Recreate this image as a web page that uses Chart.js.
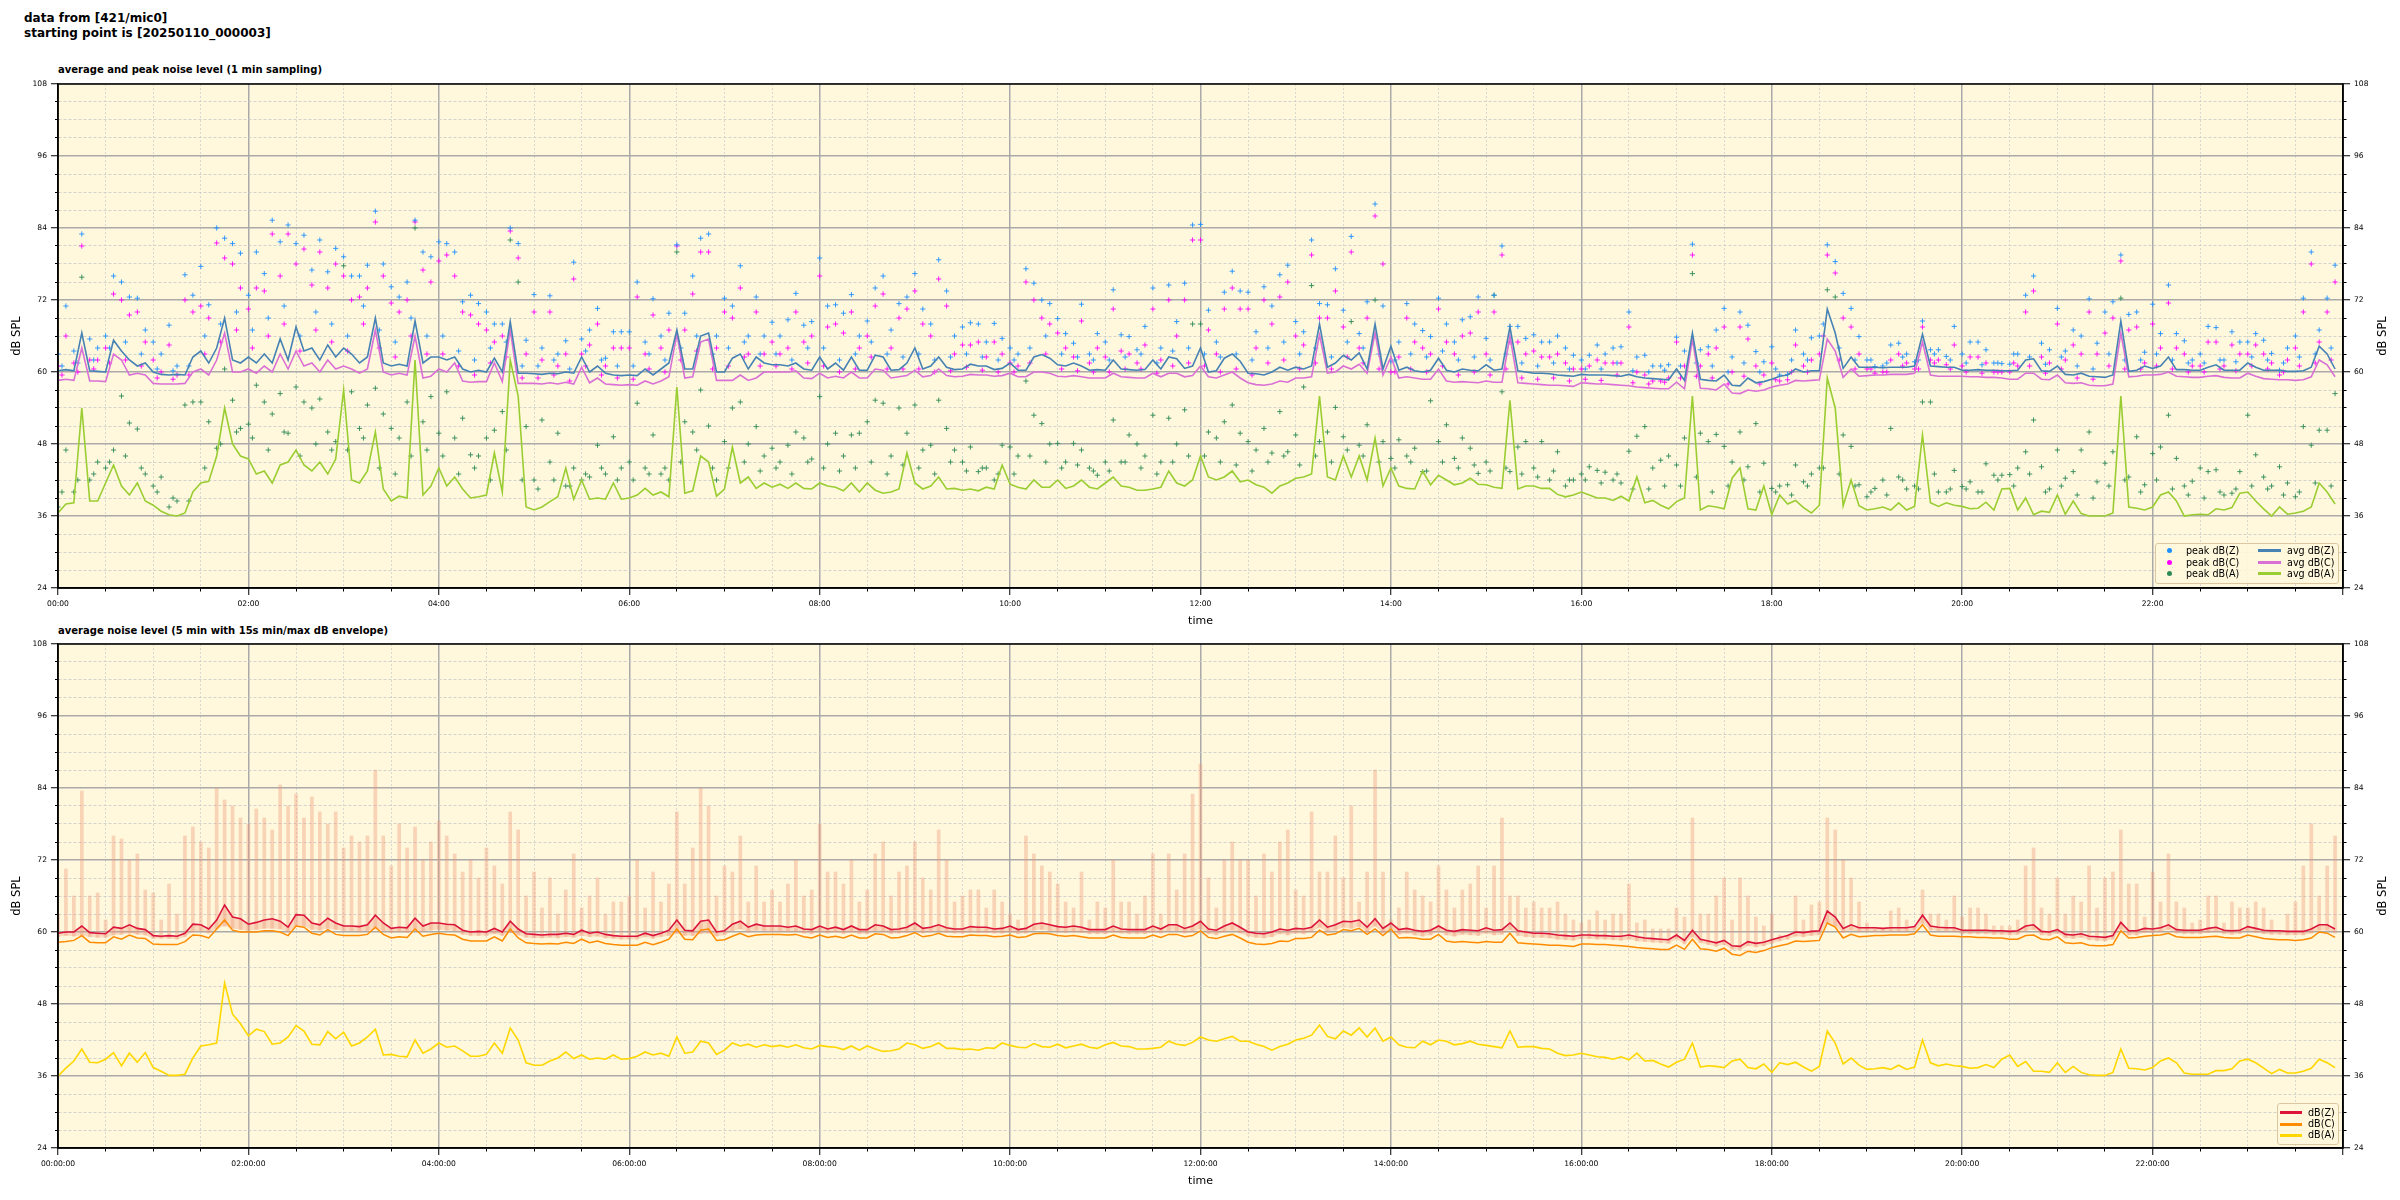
<!DOCTYPE html>
<html>
<head>
<meta charset="utf-8">
<script src="https://cdn.jsdelivr.net/npm/chart.js@4.4.1/dist/chart.umd.min.js"></script>
<style>
  body { margin: 0; width: 2400px; height: 1200px; background: #fff; position: relative; overflow: hidden; font-family: "DejaVu Sans", sans-serif; }
  .sup { position: absolute; left: 24px; top: 11px; font-weight: bold; font-size: 12px; line-height: 15px; color: #000; }
  .ptitle { position: absolute; left: 58px; font-weight: bold; font-size: 10px; color: #000; }
  canvas { position: absolute; left: 0; }
  .ytitle { position: absolute; font-size: 11.5px; color: #000; transform: translate(-50%, -50%) rotate(-90deg); white-space: nowrap; }
  .leg { position: absolute; background: rgba(255, 248, 220, 0.85); border: 1px solid #dcc8a0; border-radius: 3px; font-size: 9.6px; color: #000; }
  .leg span { position: absolute; white-space: nowrap; line-height: 11px; }
  .leg i { position: absolute; display: block; }
</style>
</head>
<body>
<div class="sup">data from [421/mic0]<br>starting point is [20250110_000003]</div>
<div class="ptitle" style="top:64px">average and peak noise level (1 min sampling)</div>
<div class="ptitle" style="top:625px">average noise level (5 min with 15s min/max dB envelope)</div>
<canvas id="c1" width="2400" height="566" style="top:74px"></canvas>
<canvas id="c2" width="2400" height="566" style="top:634px"></canvas>
<div class="ytitle" style="left:2382px;top:336px">dB SPL</div>
<div class="ytitle" style="left:2382px;top:896px">dB SPL</div>

<div class="leg" style="left:2155px;top:543px;width:182px;height:39px">
  <i style="left:11px;top:4px;width:5px;height:5px;border-radius:50%;background:#1e90ff"></i><span style="left:30px;top:1px">peak dB(Z)</span>
  <i style="left:11px;top:16px;width:5px;height:5px;border-radius:50%;background:#ff00ff"></i><span style="left:30px;top:13px">peak dB(C)</span>
  <i style="left:11px;top:27px;width:5px;height:5px;border-radius:50%;background:#2e8b57"></i><span style="left:30px;top:24px">peak dB(A)</span>
  <i style="left:102px;top:5px;width:23px;height:3px;background:#4682b4"></i><span style="left:131px;top:1px">avg dB(Z)</span>
  <i style="left:102px;top:17px;width:23px;height:3px;background:#da70d6"></i><span style="left:131px;top:13px">avg dB(C)</span>
  <i style="left:102px;top:28px;width:23px;height:3px;background:#9acd32"></i><span style="left:131px;top:24px">avg dB(A)</span>
</div>
<div class="leg" style="left:2277px;top:1103px;width:60px;height:40px">
  <i style="left:2px;top:7px;width:22px;height:3px;background:#dc143c"></i><span style="left:30px;top:3px">dB(Z)</span>
  <i style="left:2px;top:19px;width:22px;height:3px;background:#ff8c00"></i><span style="left:30px;top:14px">dB(C)</span>
  <i style="left:2px;top:30px;width:22px;height:3px;background:#ffd700"></i><span style="left:30px;top:25px">dB(A)</span>
</div>

<script>
// one value every 5 minutes, 00:00 .. 23:55 (one row per hour)
const STEP = 5;

// --- 1 min sampling chart ---
const avgZ = [
  60.2, 60.4, 60.2, 66.5, 60.2, 60.1, 60, 65.3, 63.5, 62, 61, 61.5,
  60, 59.6, 59.5, 59.6, 59.5, 62.5, 63.5, 61.5, 64, 69, 62, 61.5,
  62.5, 61.5, 63, 61.5, 65.5, 62, 67.5, 63.5, 64, 62, 64.5, 62.5,
  64, 63, 61.5, 62.5, 69, 61.5, 61, 61.3, 61, 68.5, 61.5, 62.5,
  62.5, 62, 62.5, 60.5, 60, 60.3, 60, 62.3, 60, 68.4, 59.8, 59.8,
  59.7, 59.6, 59.8, 59.7, 60, 59.8, 62.5, 60, 61, 59.8, 59.5, 59.4,
  59.5, 59.4, 60.5, 59.5, 60.5, 61.5, 67, 60.5, 60.5, 66, 66.5, 60,
  60, 62.3, 63, 60.5, 62.5, 61.5, 61.2, 61.2, 61, 61.5, 60.5, 60.3,
  62.5, 60.5, 61.5, 60.3, 62.5, 60.3, 60.3, 62.8, 62.5, 60.3, 60.4, 61.5,
  64, 60.5, 61, 62.5, 60.8, 60.4, 60.5, 61.3, 61, 61, 60.4, 60.6,
  61.5, 60.3, 60.3, 62.5, 62.9, 62.3, 61.2, 61, 61.5, 61, 60.3, 60.4,
  60.3, 62, 60.5, 60.4, 60.3, 60.4, 62, 60.5, 62.5, 62.2, 60.6, 61,
  64, 60, 60.2, 62.3, 63, 61.8, 59.8, 59.7, 59.5, 60, 60.8, 60.3,
  60.8, 60.5, 61, 68, 60.8, 61.5, 62.8, 62, 63.2, 60.5, 68, 60.5,
  64.3, 60.3, 60.8, 60.2, 60, 60.3, 62.3, 60.3, 60, 60.5, 60.3, 60.2,
  61.2, 60.3, 60.5, 67.5, 60.2, 60, 59.8, 59.8, 59.7, 59.5, 59.4, 59.3,
  59.6, 59.5, 59.5, 59.5, 59.4, 59.3, 59.6, 59.2, 59, 58.9, 58.8, 58.7,
  60.5, 58.6, 66.5, 58.8, 58.6, 58.5, 59.5, 57.8, 57.7, 59, 58.2, 58.4,
  58.8, 59.3, 59.5, 60.5, 60, 60.2, 60.2, 70.5, 66.5, 60.6, 62.5, 60.8,
  60.8, 60.8, 60.7, 60.8, 60.8, 60.8, 61, 66.3, 61, 60.9, 60.8, 60.8,
  60.3, 60.3, 60.4, 60.3, 60.3, 60.2, 60.2, 60.3, 62, 62.2, 60.2, 60.1,
  61, 59.6, 59.5, 59.8, 59.3, 59.2, 59.1, 59.5, 68.5, 60.1, 60.3, 61,
  60.6, 61, 62.5, 60.4, 60.4, 60.3, 60.3, 60.8, 61.2, 60.3, 60.3, 60.3,
  61.5, 60.8, 60.3, 60.3, 60.3, 60.1, 60.1, 60.2, 60.8, 64.3, 63, 60.5
];
const avgC = [
  58.6, 58.8, 58.6, 64, 58.5, 58.5, 58.4, 63, 62, 59.5, 59.8, 59.5,
  58.1, 58, 58, 58, 58.1, 60, 60.5, 59.5, 62, 66.5, 60, 60,
  60.5, 59.8, 61, 60, 63, 60.5, 63.5, 61, 61.5, 60, 62, 60.5,
  61, 60.5, 59.8, 60.5, 67, 60, 59.5, 59.8, 59.5, 66, 59, 59.3,
  60.5, 60, 61.5, 58.5, 58.3, 58.4, 58.4, 61.5, 58.4, 67, 58.1, 58.1,
  58.1, 58, 58.2, 58, 58.3, 58, 60.8, 58.2, 59, 58, 57.9, 57.8,
  57.9, 57.8, 58.5, 58, 58.5, 59.2, 66.3, 59, 59.2, 65, 65.5, 58.6,
  58.6, 58.6, 59.5, 58.6, 59, 60, 60, 60, 60, 60.2, 59, 58.9,
  59.8, 59, 59.3, 59, 60, 59, 59, 60.5, 60.3, 59, 59.2, 59.4,
  60.3, 59.2, 59.4, 60.5, 59.4, 59.2, 59.3, 59.6, 59.5, 59.5, 59.3, 59.4,
  59.8, 59.2, 59.2, 60, 60, 59.8, 59.3, 59.2, 59.4, 59.2, 59, 59,
  59, 59.8, 59.2, 59.1, 59, 59, 59.8, 59.2, 59.8, 59.8, 59.2, 59.4,
  61, 59.2, 59, 59.5, 60, 59, 58.2, 57.9, 57.8, 58, 58.5, 58.3,
  59, 59, 59.2, 66.2, 59.8, 60, 61, 60.5, 61.3, 59.8, 66.5, 59.5,
  62.5, 59, 59.2, 59, 58.8, 58.8, 60.5, 58.5, 58.3, 58.4, 58.3, 58.2,
  58.5, 58.3, 58.3, 66, 58.2, 58.1, 58, 57.9, 57.8, 57.8, 57.7, 57.6,
  58.2, 58.1, 58, 58, 57.9, 57.8, 57.7, 57.5, 57.4, 57.3, 57.2, 57.2,
  58.3, 57.2, 65.5, 57.3, 57.2, 57, 58, 56.5, 56.4, 57, 56.8, 57,
  57.5, 57.8, 58, 58.6, 58.5, 58.6, 58.7, 65.5, 63.5, 59.1, 60.5, 59.3,
  59.4, 59.5, 59.5, 59.6, 59.6, 59.6, 59.8, 65, 59.5, 59.3, 59.3, 59.3,
  59.3, 59.2, 59.2, 59.1, 59.1, 59, 58.8, 58.8, 59.8, 59.8, 58.8, 58.7,
  59.5, 58.2, 58.1, 58.2, 57.8, 57.7, 57.7, 58, 66.5, 59.2, 59.3, 59.5,
  59.5, 59.6, 60, 59.3, 59.2, 59.1, 59.1, 59.3, 59.4, 59.1, 59, 59,
  59.8, 59.3, 58.9, 58.8, 58.7, 58.7, 58.6, 58.7, 59.2, 62, 61.2, 59.2
];
const avgA = [
  36.5, 38, 38.2, 54, 38.5, 38.5, 41.5, 44.5, 41, 39.5, 41.5, 38.5,
  37.8, 36.8, 36.2, 36, 36.5, 40, 41.5, 41.8, 46, 54, 48, 46,
  45.5, 43, 43.5, 41.5, 44.5, 45, 47, 44.5, 43.5, 45, 43, 45.5,
  57, 42, 41.5, 43.5, 50, 40.5, 38.5, 39.3, 39, 62, 39.5, 41,
  44, 41, 42.5, 40.5, 39, 39.2, 39.5, 46.5, 40, 62, 56, 37.5,
  37, 37.5, 38.4, 39.2, 44, 38.8, 42, 38.8, 39, 38.8, 41.5, 38.8,
  39, 39.5, 40.6, 39.5, 40, 39.2, 57.5, 39.8, 40.2, 46, 45, 39.3,
  40.5, 47.5, 41.5, 42.5, 40.6, 41.5, 40.8, 41.3, 40.6, 41.5, 40.6, 40.5,
  41.5, 41, 40.8, 40.2, 41.5, 40, 41.5, 40.3, 39.8, 40, 40.5, 46.5,
  41.5, 40.5, 41, 42.5, 40.5, 40.6, 40.3, 40.5, 40.2, 40.8, 40.5, 44.5,
  41.3, 40.8, 40.5, 42, 40.8, 40.8, 42, 40.6, 41, 42, 40.8, 40.5,
  41.5, 42.5, 41, 40.8, 40.3, 40.3, 40.5, 40.8, 43.5, 41.5, 41, 42,
  46, 42.5, 42, 42.5, 43.5, 41.7, 42, 41.2, 40.8, 39.8, 41, 41.5,
  42.3, 42.5, 43, 56, 42.5, 42, 46, 42.5, 46, 42, 49, 41,
  44, 41, 40.6, 40.5, 43.5, 41.2, 42.8, 42, 41.2, 41.5, 42.3, 41.3,
  41.2, 40.8, 40.6, 55.3, 40.5, 41, 41, 40.6, 40.6, 39.6, 39.2, 39.5,
  40, 39.5, 39, 39, 38.6, 39.3, 38.5, 42.5, 38.2, 38.6, 37.8, 37.2,
  38.4, 39, 56, 37, 37.7, 37.5, 37.2, 42.3, 44, 37.2, 37, 41,
  36.2, 39.5, 38, 38.6, 37.4, 36.5, 37.8, 59, 54, 37.7, 42, 37.7,
  37, 37.2, 37.5, 37, 38.2, 37, 37.6, 49.5, 38.2, 37.6, 38.2, 37.8,
  37.6, 37.2, 37.3, 38.3, 37, 40.5, 40.6, 37, 39, 36.2, 36.8, 36.6,
  39.5, 36.3, 38.5, 36.4, 36, 36, 36, 36.5, 56, 37.5, 37.3, 37,
  37.5, 39.5, 40, 38.5, 36, 36.2, 36.3, 36.2, 37.2, 37, 37.4, 39.8,
  40, 38.5, 37.2, 36, 37.5, 36.3, 36.5, 36.8, 37.5, 41.5, 40, 38
];
// highest peak seen in each 5 min slot
const peakZ = [
  63, 71, 63.5, 83, 65.5, 64, 66, 76, 75, 72.5, 72.3, 67,
  65, 63, 67.8, 61, 76.2, 72.8, 77.6, 71.2, 84, 82.3, 81.4, 79.8,
  72.8, 80, 76.4, 85.3, 81.7, 84.5, 81.4, 82.8, 77, 82, 76.7, 80.6,
  79.2, 76, 76, 77.8, 86.8, 78, 74.2, 72.5, 75, 85.3, 80, 79.2,
  81.7, 81.4, 80, 71.7, 72.8, 71.4, 70, 68, 68, 84, 81.4, 65.3,
  72.9, 64, 72.7, 63, 65.2, 78.3, 65.5, 67, 70.6, 62.3, 66.7, 66.7,
  66.7, 75, 65, 72.2, 66, 69.8, 81.2, 69.8, 76, 82.3, 83, 66,
  72.3, 71, 77.7, 66, 72.5, 66, 68.3, 66, 68.7, 73.1, 67.8, 68.4,
  79, 71, 71.2, 69.8, 72.9, 66, 68.5, 74, 76, 67, 71.4, 72.5,
  76.4, 70.5, 68, 78.7, 73.5, 66, 67.5, 68.2, 68, 65, 68.1, 65.6,
  64, 63, 77.2, 74.8, 72, 71.4, 68.9, 66.4, 64.8, 71.3, 63, 66.4,
  65, 73.7, 66.2, 65.9, 63.7, 67.6, 74, 64, 74.5, 68.4, 74.8, 84.5,
  84.6, 70.3, 65, 73.3, 76.8, 73.5, 73.3, 66.7, 74.2, 71, 76.2, 77.8,
  68.4, 66.7, 82, 71.4, 71.2, 77.2, 70.3, 82.6, 66.4, 71.7, 88, 71,
  61.8, 65, 71.4, 68, 66.9, 65.9, 72.3, 68, 65, 68.7, 69.2, 72.5,
  65.6, 72.8, 81, 67.6, 67.6, 65.6, 66.2, 65, 65, 66, 64, 62.8,
  62, 62.8, 64.5, 63, 64, 64.2, 70, 62.5, 62.8, 61, 61, 61.2,
  65.8, 63.5, 81.3, 63.7, 64.2, 67, 70.6, 62.5, 70, 67.8, 63.4, 61.7,
  64.2, 59.5, 59.6, 67, 63, 65.7, 66, 81.2, 78.4, 73.1, 70.6, 65.9,
  62, 60.9, 61, 64.5, 64.8, 63, 61.7, 68.5, 63.7, 63.7, 62.6, 67.6,
  63, 65, 65, 63.7, 61.5, 61.4, 61.3, 63, 72.8, 76, 64.8, 63.7,
  70.6, 63.5, 67, 66, 72.2, 64.8, 70, 71.7, 79.5, 69.6, 70, 63.3,
  71.3, 66.4, 74.5, 66.4, 65.2, 62, 63, 67.6, 67.4, 62, 66.7, 65,
  65, 66.4, 65.3, 63.1, 60.3, 64, 66, 72.3, 80, 67, 72.3, 77.8
];
const peakC = [
  61, 66, 61.5, 81, 62, 62, 64, 73, 72, 69.5, 70, 65,
  62, 60, 64.5, 59.5, 72, 70, 71, 69, 81.5, 79, 78, 74,
  70.5, 74, 73.5, 83, 76, 83, 78, 80.5, 74.5, 80, 74, 78,
  76, 72, 72.5, 74, 85, 76, 71.5, 70, 72, 85, 77, 75,
  78.5, 79.5, 76, 70, 69.5, 68, 67, 65, 66, 83.5, 79, 63,
  70, 62, 70, 61, 63, 75.5, 63, 64.5, 68, 61, 64, 64,
  64, 72.5, 63, 69.5, 64, 67, 81, 67, 73, 80, 80, 64,
  70, 69, 74, 63, 70, 63, 65, 63, 64, 70, 65, 66,
  76, 67.5, 68, 66.5, 70, 64, 66, 71, 73, 64, 69, 70.5,
  73.5, 68, 66, 75.5, 71, 63, 64.5, 64.5, 65, 62.5, 65, 63,
  61.5, 61, 75, 72, 69, 68, 66.5, 64, 62.5, 68.5, 61.5, 64,
  62.5, 70.5, 63.5, 63, 61.5, 64.5, 70.5, 62, 72, 66, 72, 82,
  82, 67, 63, 70.5, 74, 70.5, 70.5, 64, 72, 68, 72.5, 75,
  66, 64.5, 79.5, 69, 69, 73.5, 67.5, 80, 64, 69, 86, 78,
  60, 62.5, 69, 65, 64, 63, 70.5, 65, 63, 66, 66.5, 70,
  63, 70, 79.5, 65, 65, 63, 63.5, 62.5, 62.5, 63, 61.5, 60.5,
  60.5, 61, 62, 61.5, 61.5, 61.5, 67.5, 60, 59.5, 58.5, 58.5, 59,
  65, 61, 79.5, 61, 63, 64, 67.5, 60, 67.5, 65.5, 61, 59.5,
  61.5, 58.5, 58.7, 64.5, 61, 62, 63, 79.5, 76.5, 69, 67.5, 63,
  60.5, 59.8, 60, 62, 63, 61.5, 60.5, 67.5, 62, 62, 61.2, 64.5,
  61, 62.5, 62.5, 61.5, 60, 60, 60, 61, 70, 73.5, 62.5, 61.5,
  68, 62, 64.5, 63, 70, 63, 66.5, 69, 78.5, 67, 67.5, 61.5,
  68, 64, 71.5, 64, 63, 61, 61, 65, 65, 61, 64.5, 63,
  63, 64.5, 63, 61.5, 59.5, 62, 64, 70, 78, 65, 70, 75
];
const peakA = [
  37.5, 47, 40, 75.8, 42, 45, 44, 47, 56, 51.5, 50.5, 43,
  41, 42.5, 37.5, 38.5, 54.5, 55, 55, 51.7, 47.3, 60.5, 55.3, 50.6,
  51.3, 57.8, 55, 53, 56.4, 49.8, 57.5, 55, 54, 55.5, 50, 48.4,
  77.7, 56.7, 50.6, 54.5, 57.3, 53, 50.6, 49, 55, 84, 51.7, 55.9,
  49.8, 56.7, 49, 52.3, 46.2, 46, 49, 50.3, 53.4, 82, 75, 50.9,
  42, 52, 45, 49.8, 41, 44, 42, 42.5, 47.8, 43, 49.2, 44,
  45, 54.8, 44, 49.5, 43, 42, 80, 51.7, 50, 57, 51, 42,
  48.4, 54, 55, 48, 50.9, 46, 47.3, 45, 47.8, 50, 49, 45.5,
  55.9, 48, 49.8, 46, 49.5, 49.8, 51.7, 55.3, 54.8, 46, 54, 49.8,
  54.5, 47, 47.8, 55.3, 50.6, 47, 45, 47.5, 43.4, 44, 42, 47.8,
  47.5, 46, 58.5, 52.8, 51.4, 48, 48.1, 45, 48.1, 47, 44, 42.8,
  45, 52, 45, 49.5, 48, 46, 52.8, 45, 52.3, 48, 53.7, 68,
  68, 50, 49, 51.7, 54.5, 49.8, 48.4, 47, 50.6, 46.5, 53.4, 46.7,
  49.5, 57.5, 74.4, 48.4, 50, 54.1, 49.2, 68.4, 47.8, 51.2, 72, 48.4,
  45.6, 48.7, 46, 47.3, 43.4, 55.2, 48.4, 51.2, 45.6, 49, 47.3, 43.1,
  45, 72.8, 56.7, 43.4, 47.5, 48.4, 44, 48.4, 42, 46.7, 41, 42,
  43, 44.2, 43.6, 43.3, 42, 41.5, 46.8, 49.3, 50.9, 44, 45.3, 46,
  44.5, 49, 76.4, 49.8, 48.4, 49.6, 47.6, 45, 50, 44.2, 51.4, 44.8,
  40.6, 41, 41.2, 44.5, 41.7, 43, 44, 73.7, 72.5, 49.5, 47.6, 41.2,
  39.2, 40.6, 42, 50.6, 42.5, 40.5, 41, 55, 55, 40, 40, 43.6,
  40.9, 41.7, 40, 44.7, 42.8, 42.8, 42.9, 44, 46.7, 52, 44.2, 40.5,
  47, 42.3, 43.4, 47, 50, 41.7, 44.8, 46.7, 72.3, 42.5, 49.2, 41.2,
  46.4, 47.5, 52.8, 45.6, 41, 41.8, 44, 43.4, 43.7, 39.5, 39.8, 43.4,
  52.8, 46.2, 42.5, 41, 44.2, 41.5, 39.2, 50.9, 47.8, 50.3, 50.3, 56.4
];
// the dense peaks lying just above the lines, one every 10 min
const NEAR_STEP = 10;
const peakZnear = [
  61, 61.5, 62, 64, 65, 63,   60.5, 60.2, 61, 66, 68, 70,   67, 69, 71, 66, 70, 68,
  66, 71, 67, 65, 69, 66,     66, 63.5, 62, 64, 65, 61,     61, 62, 60.5, 63.5, 62, 61,
  61, 63, 62, 64, 66, 63,     64, 65, 63, 63, 62, 64,       64, 62, 63, 65, 63, 62.5,
  63, 62, 62.5, 63, 62.5, 62, 62, 64, 66, 63, 62.5, 62,     62, 62.5, 63, 61.5, 63.5, 64,
  63, 62.5, 63, 62, 64, 65,   63, 64, 62.5, 65, 64, 63,     62, 63, 62.5, 63.5, 62, 62.5,
  62, 63, 61.5, 61, 61.5, 60.5, 60.5, 60.5, 61.5, 60.2, 60, 60.3, 61, 61.5, 61, 60, 61.5, 60,
  60.5, 62, 62, 68, 64, 62,   62, 61.5, 62.5, 62, 63, 62,   61.5, 61.2, 61.5, 63, 62.5, 61.3,
  62.5, 61, 60.5, 63, 62, 62, 63, 62, 61.5, 61.5, 62, 61.7, 62.5, 62, 61.5, 62.5, 63, 64
];
const peakCnear = [
  59.5, 60, 60.5, 61.5, 62, 61, 59, 58.8, 59.5, 63, 65, 67,   64, 66, 68, 63.5, 67, 65,
  63.5, 68, 64, 62.5, 66, 63,   63, 61, 59.5, 61.5, 62.5, 59,   59, 59.5, 58.5, 61, 59.5, 59,
  58.8, 60.5, 60, 62, 63.5, 60.5, 61, 62.5, 61, 61, 60.5, 61.5, 61, 60, 60.5, 62.5, 60.5, 60.5,
  60.5, 60, 60.2, 60.8, 60.3, 60, 60, 61.5, 63, 60.5, 60.2, 60, 60, 60.5, 60.5, 59.8, 61, 61.5,
  61, 60, 60.5, 59.5, 61.5, 62,  60.5, 61.5, 60.5, 62.5, 61.5, 60.5, 60, 60.5, 60, 61, 59.5, 60,
  59.5, 60.5, 59, 58.8, 59, 58.5, 58.8, 58.6, 59.5, 58.2, 58, 58.3, 59, 59.3, 59, 58, 59.3, 58,
  58.7, 60, 60, 66, 62, 60.5,   60.5, 60, 61, 60.5, 61.5, 60.5, 60, 59.8, 60, 61.5, 61, 59.8,
  60.5, 59, 58.8, 61, 60.5, 60.5, 61, 60.5, 60, 60, 60.5, 60.2, 61, 60.5, 60, 61, 61.5, 62
];
const peakAnear = [
  40, 42, 43, 45, 46, 44,     40, 39, 38.5, 44, 48, 50,     49, 47, 50, 46, 48, 47,
  47, 49, 44, 43, 46, 47,     46, 43, 44, 42, 47, 42,       40.5, 42, 41, 43, 44, 42,
  42, 43, 44, 45, 47, 44,     44, 45, 43.5, 44, 43, 45,     44, 43.5, 44, 45, 43, 44.5,
  44, 43, 45, 43.5, 44, 43,   43, 46, 45, 44, 44.5, 43.5,   43.5, 45, 44, 43, 45, 46,
  46, 45, 44.5, 43.5, 45, 46, 44.5, 46, 45, 47, 46, 45,     44, 45, 43.5, 45, 44, 44.5,
  43.5, 44, 43, 42.5, 43.5, 42, 42, 41.5, 43, 40.5, 40.5, 41, 41, 42.5, 40, 41, 42, 40,
  40, 39.5, 41, 44, 43, 41,   40, 39.5, 42, 40.5, 43, 40.5, 40.5, 40, 42, 41, 43, 40,
  41, 39.5, 39, 41, 42, 40,   42, 40.5, 39.5, 39, 40, 40.5, 41, 40.5, 39.5, 40, 41.5, 41
];

// --- 5 min chart (lower panel) ---
const dbZ = [
  59.8, 60, 60, 61, 59.9, 59.8, 59.7, 60.8, 60.6, 61.2, 60.6, 60.4,
  59.4, 59.3, 59.4, 59.3, 59.8, 61.3, 61.2, 60.5, 62, 64.5, 62.5, 62.2,
  61.3, 61.6, 62, 62.2, 61.8, 60.8, 62.9, 62.8, 61.5, 61.2, 62.3, 61.5,
  61, 61, 60.9, 61.2, 62.8, 61.5, 60.6, 60.8, 60.7, 62.3, 61, 61.5,
  61.5, 61.3, 61.2, 60.3, 60, 60.1, 60, 60.6, 60, 61.8, 60.5, 59.7,
  59.6, 59.5, 59.6, 59.6, 59.8, 59.6, 60.3, 59.8, 60, 59.6, 59.4, 59.3,
  59.3, 59.3, 59.8, 59.4, 59.8, 60.3, 62, 60.3, 60.2, 61.8, 62, 60,
  60.2, 61.3, 61.8, 60.8, 61.3, 61, 61, 61, 60.8, 61, 60.5, 60.4,
  61, 60.5, 60.8, 60.4, 61, 60.4, 60.4, 61.2, 61, 60.4, 60.5, 60.8,
  61.5, 60.6, 60.8, 61.2, 60.7, 60.5, 60.5, 60.9, 60.8, 60.8, 60.5, 60.6,
  61, 60.4, 60.6, 61.3, 61.5, 61.2, 60.9, 60.8, 61, 60.8, 60.4, 60.4,
  60.4, 61, 60.5, 60.4, 60.4, 60.4, 61, 60.5, 61.2, 61.2, 60.6, 61,
  61.8, 60.5, 60.3, 61, 61.5, 60.8, 60, 59.8, 59.7, 60, 60.5, 60.3,
  60.6, 60.5, 60.8, 62, 60.8, 61.2, 61.8, 61.7, 62, 60.8, 62.2, 60.6,
  61.5, 60.4, 60.6, 60.3, 60.1, 60.3, 61, 60.3, 60.1, 60.4, 60.3, 60.2,
  60.7, 60.3, 60.4, 61.5, 60.2, 60, 59.8, 59.8, 59.7, 59.5, 59.4, 59.3,
  59.5, 59.5, 59.4, 59.4, 59.3, 59.3, 59.5, 59.2, 59, 58.9, 58.8, 58.7,
  59.5, 58.6, 60.3, 58.8, 58.5, 58.2, 58.6, 57.7, 57.6, 58.4, 58.1, 58.3,
  58.7, 59.1, 59.4, 60, 59.9, 60.1, 60.2, 63.5, 62.5, 60.6, 61.2, 60.7,
  60.7, 60.7, 60.6, 60.7, 60.7, 60.7, 60.9, 62.8, 61, 60.8, 60.7, 60.7,
  60.3, 60.3, 60.3, 60.3, 60.2, 60.2, 60.1, 60.2, 61, 61.2, 60.1, 60,
  60.4, 59.6, 59.5, 59.7, 59.3, 59.2, 59.1, 59.4, 61.6, 60.2, 60.2, 60.6,
  60.5, 60.7, 61.2, 60.4, 60.3, 60.3, 60.3, 60.6, 60.8, 60.3, 60.2, 60.3,
  60.9, 60.6, 60.3, 60.2, 60.2, 60.1, 60.1, 60.1, 60.5, 61.2, 61.2, 60.5
];
const dbC = [
  58.3, 58.4, 58.6, 59.4, 58.3, 58.2, 58.2, 59.2, 58.8, 59.5, 59, 58.9,
  58, 57.9, 57.9, 57.9, 58.4, 59.5, 59.4, 59, 60.5, 62, 60.3, 60,
  60, 60, 60.2, 60.2, 60, 59.4, 61, 60.8, 59.8, 59.5, 60.4, 59.6,
  59.4, 59.4, 59.4, 59.6, 60.8, 59.6, 59, 59.2, 59.1, 60.5, 59.3, 59.6,
  59.8, 59.6, 59.5, 58.8, 58.5, 58.5, 58.5, 59.2, 58.5, 60.5, 59, 58.2,
  58.1, 58, 58.1, 58, 58.3, 58.1, 58.8, 58.2, 58.5, 58.1, 57.9, 57.8,
  57.8, 57.8, 58.3, 57.9, 58.3, 58.8, 60.5, 58.8, 58.7, 60.3, 60.5, 58.6,
  58.7, 59.3, 59.8, 59.2, 59.5, 59.6, 59.6, 59.6, 59.5, 59.6, 59.2, 59,
  59.5, 59.1, 59.3, 59, 59.5, 59, 59, 59.7, 59.6, 59, 59.1, 59.4,
  59.9, 59.2, 59.4, 59.8, 59.3, 59.2, 59.2, 59.5, 59.4, 59.4, 59.2, 59.3,
  59.5, 59.1, 59.2, 59.7, 59.8, 59.7, 59.4, 59.3, 59.4, 59.2, 59, 59,
  59, 59.5, 59.1, 59, 59, 59, 59.5, 59.1, 59.6, 59.6, 59.2, 59.4,
  60.2, 59.1, 58.9, 59.3, 59.6, 59, 58.3, 58, 57.9, 58.1, 58.5, 58.4,
  58.9, 58.9, 59.1, 60.3, 59.5, 59.7, 60.4, 60.2, 60.6, 59.6, 60.5, 59.4,
  60.5, 59, 59.1, 59, 58.8, 58.8, 59.6, 58.5, 58.3, 58.4, 58.3, 58.2,
  58.4, 58.3, 58.3, 59.8, 58.2, 58.1, 58, 57.9, 57.8, 57.8, 57.7, 57.6,
  58, 58, 57.9, 57.9, 57.8, 57.7, 57.6, 57.4, 57.3, 57.2, 57.1, 57.1,
  57.8, 57.1, 58.8, 57.2, 57.1, 56.8, 57.3, 56.3, 56.1, 56.8, 56.6, 56.9,
  57.4, 57.7, 58, 58.5, 58.4, 58.5, 58.6, 61.5, 60.8, 59, 59.6, 59.2,
  59.3, 59.4, 59.4, 59.5, 59.5, 59.5, 59.7, 61.2, 59.5, 59.3, 59.3, 59.3,
  59.2, 59.2, 59.1, 59.1, 59, 59, 58.8, 58.8, 59.4, 59.5, 58.8, 58.7,
  59.2, 58.2, 58.1, 58.2, 57.8, 57.7, 57.7, 57.9, 60.2, 59, 59.1, 59.3,
  59.4, 59.5, 59.8, 59.2, 59.1, 59.1, 59.1, 59.2, 59.3, 59.1, 59, 59,
  59.5, 59.2, 58.9, 58.8, 58.7, 58.7, 58.6, 58.7, 59, 60, 59.8, 59.1
];
const dbA = [
  36, 37.3, 38.5, 40.5, 38.3, 38.2, 38.8, 39.9, 37.7, 39.8, 38.3, 39.9,
  37.4, 36.8, 36.1, 36.1, 36.3, 39, 41, 41.2, 41.5, 51.5, 46.3, 44.7,
  42.7, 43.8, 43.4, 41.3, 41.5, 42.5, 44.4, 43.5, 41.3, 41.2, 43.4, 42.2,
  43.3, 41, 41.5, 42.5, 43.8, 39.5, 39.6, 39.3, 39.2, 42, 39.8, 40.5,
  41.5, 40.8, 41, 40.2, 39.3, 39.3, 39.6, 41.5, 39.8, 44, 42, 38.2,
  37.8, 37.8, 38.5, 39, 40, 38.9, 39.5, 38.8, 39, 38.8, 39.5, 38.8,
  38.9, 39.3, 40, 39.5, 39.8, 39.3, 42.5, 39.8, 40, 41.8, 41.5, 39.6,
  40.3, 41.5, 41, 41.3, 40.8, 41.2, 40.9, 41.1, 40.8, 41.2, 40.7, 40.5,
  41.1, 40.9, 40.8, 40.4, 41, 40.3, 41, 40.5, 40.1, 40.2, 40.5, 41.5,
  41.2, 40.6, 40.9, 41.5, 40.6, 40.6, 40.4, 40.5, 40.3, 40.7, 40.6, 41.5,
  41.1, 40.8, 40.7, 41.4, 40.9, 40.8, 41.3, 40.7, 41, 41.3, 40.8, 40.6,
  41.2, 41.6, 41, 40.9, 40.5, 40.5, 40.6, 40.8, 41.8, 41.3, 41.1, 41.6,
  42.5, 42, 41.8, 42.2, 42.6, 41.8, 41.8, 41.3, 40.9, 40.3, 40.9, 41.3,
  42, 42.3, 42.8, 44.5, 42.6, 42.2, 43.5, 42.8, 44, 42.5, 44, 41.8,
  42.5, 41.2, 40.8, 40.7, 41.8, 41.2, 42, 41.8, 41.2, 41.4, 41.8, 41.3,
  41.1, 40.9, 40.7, 43.5, 40.8, 40.9, 40.9, 40.6, 40.5, 39.8, 39.4, 39.5,
  39.8, 39.5, 39.2, 39.1, 38.8, 39.2, 38.7, 39.8, 38.5, 38.6, 38, 37.5,
  38.3, 38.8, 41.5, 37.5, 37.7, 37.6, 37.4, 38.5, 38.8, 37.4, 37.2, 38,
  36.6, 38.2, 37.9, 38.3, 37.5, 36.8, 37.6, 43.5, 41.5, 38, 39, 37.8,
  37.1, 37.2, 37.4, 37.1, 37.8, 37.1, 37.5, 42, 38.2, 37.7, 38, 37.7,
  37.6, 37.3, 37.4, 37.9, 37.4, 38.8, 39.5, 37.6, 38.4, 36.8, 36.8, 36.6,
  38.2, 36.6, 37.6, 36.6, 36.2, 36.1, 36.1, 36.6, 40.5, 37.3, 37.2, 37,
  37.4, 38.5, 39, 38.2, 36.5, 36.3, 36.3, 36.3, 36.9, 36.9, 37.2, 38.5,
  38.8, 38.2, 37.3, 36.4, 37.1, 36.5, 36.5, 36.8, 37.3, 38.8, 38.2, 37.4
];
// 15 s max / min of dB(Z) inside each 5 min window
const envMax = [
  63, 70.5, 66, 83.5, 66, 66.5, 62, 76, 75.5, 72, 73, 67,
  66.5, 62, 68, 63, 76, 77.5, 75, 74, 84, 82, 81, 79,
  78, 80.5, 79, 77, 84.5, 81, 83, 79, 82.5, 80, 78, 80,
  74, 76, 75, 76, 87, 76, 71, 78, 74, 77.5, 72, 75,
  78.5, 76, 73, 70, 72, 69, 74, 71, 68, 80, 77, 66,
  70, 64, 69, 63, 67, 73, 64, 66, 69, 63, 65, 65,
  66, 72, 64, 70, 65, 68, 80, 68, 74, 84, 81, 66,
  71, 70, 76, 65, 71, 65, 67, 65, 68, 72, 66, 67,
  78, 70, 70, 68, 72, 65, 67, 73, 75, 66, 70, 71,
  75, 69, 67, 77, 72, 65, 66, 67, 67, 64, 67, 65,
  63, 62, 76, 73, 71, 70, 68, 65, 64, 70, 62, 65,
  64, 72, 65, 65, 63, 66, 73, 63, 73, 67, 73, 83,
  88, 69, 64, 72, 75, 72, 72, 66, 73, 70, 75, 77,
  67, 66, 80, 70, 70, 76, 69, 81, 65, 70, 87, 70,
  62, 64, 70, 67, 66, 65, 71, 67, 64, 67, 68, 71,
  64, 71, 79, 66, 66, 64, 65, 64, 64, 65, 63, 62,
  61.5, 62, 63.5, 62, 63, 63, 68, 61.5, 62, 60.5, 60.5, 60.5,
  64, 62.5, 79, 63, 63, 66, 69, 62, 69, 66, 62.5, 61,
  63, 59.5, 59.5, 66, 62, 64.5, 65, 79, 77, 72, 69, 65,
  61.5, 60.5, 60.5, 63.5, 64, 62, 61, 67, 63, 63, 62, 66,
  62.5, 64, 64, 63, 61, 61, 61, 62, 71, 74, 64, 63,
  69, 63, 66, 65, 71, 64, 69, 70, 77, 68, 68, 62.5,
  70, 65, 73, 65, 64, 61.5, 62, 66, 66, 61.5, 65, 64,
  64, 65, 64, 62, 60, 63, 65, 71, 78, 66, 71, 76
];
const envMin = [
  59.2, 59.4, 59.3, 59.4, 59.2, 59.1, 59.1, 59.5, 59.6, 59.8, 59.6, 59.5,
  58.9, 58.9, 58.9, 58.8, 59.2, 60, 60.2, 59.8, 60.6, 61, 60.6, 60.4,
  60.2, 60.4, 60.6, 60.6, 60.5, 60, 61, 61, 60.4, 60.3, 60.6, 60.4,
  60.2, 60.2, 60, 60.2, 60.5, 60.2, 59.9, 60, 59.9, 60.3, 60.1, 60.3,
  60.4, 60.3, 60.2, 59.6, 59.4, 59.4, 59.4, 59.7, 59.4, 59.9, 59.5, 59.1,
  59, 59, 59.1, 59, 59.2, 59.1, 59.4, 59.2, 59.3, 59, 58.9, 58.8,
  58.8, 58.8, 59.2, 58.9, 59.2, 59.4, 59.8, 59.4, 59.4, 59.7, 59.8, 59.3,
  59.5, 60.2, 60.5, 59.9, 60.3, 60.2, 60.1, 60.1, 60, 60.1, 59.8, 59.7,
  60, 59.8, 60, 59.7, 60, 59.7, 59.7, 60.2, 60.1, 59.7, 59.8, 59.9,
  60.3, 59.8, 60, 60.2, 59.9, 59.8, 59.8, 60, 59.9, 59.9, 59.8, 59.8,
  60, 59.7, 59.8, 60.3, 60.4, 60.2, 60, 59.9, 60, 59.9, 59.7, 59.7,
  59.7, 60, 59.8, 59.7, 59.7, 59.7, 60, 59.8, 60.2, 60.2, 59.8, 60,
  60.5, 59.7, 59.5, 60, 60.3, 59.8, 59.3, 59.1, 59, 59.2, 59.7, 59.5,
  59.8, 59.7, 60, 60.8, 60, 60.3, 60.8, 60.6, 60.9, 60, 61, 59.8,
  60.5, 59.6, 59.8, 59.5, 59.3, 59.5, 60.1, 59.5, 59.3, 59.6, 59.5, 59.4,
  59.8, 59.5, 59.6, 60.4, 59.4, 59.2, 59.1, 59.1, 59, 58.8, 58.7, 58.6,
  58.9, 58.9, 58.8, 58.8, 58.7, 58.6, 58.8, 58.5, 58.4, 58.3, 58.2, 58.1,
  58.8, 58, 59.2, 58.2, 57.9, 57.6, 57.9, 57.1, 57, 57.7, 57.5, 57.7,
  58.1, 58.5, 58.8, 59.3, 59.2, 59.4, 59.5, 61.5, 61, 59.9, 60.3, 60,
  60.1, 60.1, 60, 60.1, 60.1, 60.1, 60.3, 61.5, 60.3, 60.2, 60.1, 60.1,
  59.7, 59.7, 59.7, 59.7, 59.6, 59.6, 59.5, 59.6, 60.2, 60.4, 59.5, 59.4,
  59.8, 59, 58.9, 59.1, 58.7, 58.6, 58.5, 58.8, 60.5, 59.5, 59.5, 59.9,
  59.9, 60, 60.4, 59.8, 59.7, 59.7, 59.7, 59.9, 60.1, 59.7, 59.6, 59.7,
  60.2, 59.9, 59.7, 59.6, 59.6, 59.5, 59.5, 59.5, 59.8, 60.3, 60.3, 59.8
];

const FONT = '"DejaVu Sans", sans-serif';
const pts = (arr, step = STEP, off = 0) => arr.map((v, i) => ({ x: i * step + off, y: v }));
const pad2 = n => String(n).padStart(2, '0');

const isMajorY = c => c.tick && c.tick.value % 12 === 0;
const isMajorX = c => c.tick && c.tick.value % 120 === 0;

const panel = {
  id: 'panel',
  beforeDraw(chart) {
    const { ctx, chartArea: a } = chart;
    ctx.save();
    ctx.fillStyle = '#fff8dc';
    ctx.fillRect(a.left, a.top, a.right - a.left, a.bottom - a.top);
    ctx.restore();
  },
  afterDraw(chart) {
    const { ctx, chartArea: a } = chart;
    ctx.save();
    ctx.strokeStyle = '#000';
    ctx.lineWidth = 1.5;
    ctx.strokeRect(a.left, a.top, a.right - a.left, a.bottom - a.top);
    ctx.restore();
  }
};

function xAxis(withSeconds) {
  return {
    type: 'linear', min: 0, max: 1440, offset: false,
    afterFit: s => { s.height = 52; },
    ticks: {
      stepSize: 30, autoSkip: false, maxRotation: 0, padding: 4, color: '#000',
      font: { family: FONT, size: 7.6 },
      callback: v => (v % 120 === 0 && v < 1440) ? pad2(v / 60) + (withSeconds ? ':00:00' : ':00') : ''
    },
    grid: {
      offset: false,
      color: c => isMajorX(c) ? '#aaaaaa' : '#cfcfcf',
      lineWidth: c => isMajorX(c) ? 1.5 : 0.8,
      tickLength: 7, tickColor: '#000', tickWidth: 1,
      tickBorderDash: c => isMajorX(c) ? [] : [3, 50]
    },
    border: { color: '#000', width: 1.5, dash: c => (c.tick && !isMajorX(c)) ? [2, 2] : [] },
    title: { display: true, text: 'time', color: '#000', font: { family: FONT, size: 11 }, padding: { top: 12, bottom: 12 } }
  };
}

function yAxis(pos) {
  return {
    type: 'linear', position: pos, min: 24, max: 108,
    afterFit: s => { s.width = pos === 'left' ? 58 : 57; },
    ticks: {
      stepSize: 3, autoSkip: false, padding: 4, color: '#000',
      font: { family: FONT, size: 7.6 },
      callback: v => (v % 12 === 0 ? String(v) : '')
    },
    grid: {
      drawOnChartArea: pos === 'left',
      color: c => isMajorY(c) ? '#aaaaaa' : '#c8c8c8',
      lineWidth: c => isMajorY(c) ? 1.5 : 0.8,
      tickLength: 7, tickColor: '#000', tickWidth: 1,
      tickBorderDash: c => isMajorY(c) ? [] : (pos === 'left' ? [0, 4, 3, 50] : [3, 50])
    },
    border: { color: '#000', width: 1.5, dash: c => (c.tick && !isMajorY(c)) ? [3, 2] : [] },
    title: pos === 'left'
      ? { display: true, text: 'dB SPL', color: '#000', font: { family: FONT, size: 11.5 }, padding: { top: 10, bottom: 10 } }
      : { display: false }
  };
}

function baseOptions(withSeconds) {
  return {
    responsive: false, animation: false, devicePixelRatio: 1,
    layout: { padding: { top: 10, left: 0, right: 0, bottom: 0 } },
    plugins: { legend: { display: false }, tooltip: { enabled: false } },
    elements: { point: { radius: 0 }, line: { tension: 0 } },
    scales: { x: xAxis(withSeconds), y: yAxis('left'), y2: yAxis('right') }
  };
}

const peakSet = (data, color) => ({
  type: 'scatter', data, order: 5, showLine: false,
  pointStyle: 'cross', pointRadius: 2.6, pointBorderWidth: 1,
  borderColor: color, backgroundColor: color
});
const lineSet = (data, color, w, order) => ({
  type: 'line', data: pts(data), order, borderColor: color, borderWidth: w,
  pointRadius: 0, fill: false
});

const cZ = 'rgba(30,144,255,0.9)', cC = 'rgba(255,0,255,0.9)', cA = 'rgba(46,139,87,0.9)';
new Chart(document.getElementById('c1'), {
  type: 'line',
  data: {
    datasets: [
      peakSet(pts(peakZ), cZ),
      peakSet(pts(peakC), cC),
      peakSet(pts(peakA), cA),
      peakSet(pts(peakZnear, NEAR_STEP, 2.5), cZ),
      peakSet(pts(peakCnear, NEAR_STEP, 2.5), cC),
      peakSet(pts(peakAnear, NEAR_STEP, 2.5), cA),
      lineSet(avgA, '#9acd32', 1.6, 3),
      lineSet(avgC, '#da70d6', 1.6, 2),
      lineSet(avgZ, '#4682b4', 1.6, 1)
    ]
  },
  options: baseOptions(false),
  plugins: [panel]
});

new Chart(document.getElementById('c2'), {
  type: 'line',
  data: {
    datasets: [
      // thin streaks from the 15 s minimum up to the 15 s maximum
      { type: 'bar', data: envMax.map((v, i) => ({ x: i * STEP, y: [envMin[i], v] })),
        order: 10, barThickness: 3, grouped: false, borderWidth: 0,
        backgroundColor: 'rgba(240,150,120,0.38)' },
      // continuous band between the 15 s minimum and the dB(Z) average
      { type: 'line', data: pts(envMin), order: 11, borderWidth: 0, pointRadius: 0,
        backgroundColor: 'rgba(240,150,120,0.3)', fill: 4 },
      lineSet(dbA, '#ffd700', 1.6, 3),
      lineSet(dbC, '#ff8c00', 1.5, 2),
      lineSet(dbZ, '#dc143c', 1.6, 1)
    ]
  },
  options: baseOptions(true),
  plugins: [panel]
});
</script>
</body>
</html>
